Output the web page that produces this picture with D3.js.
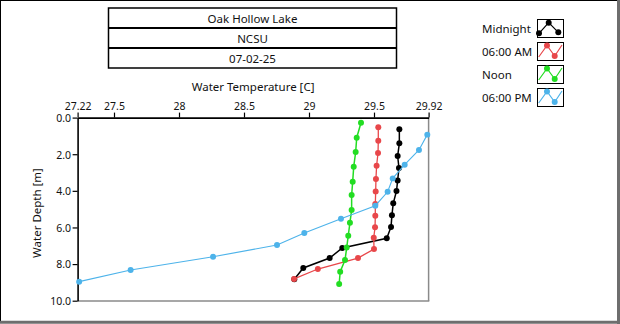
<!DOCTYPE html>
<html>
<head>
<meta charset="utf-8">
<script src="https://cdn.jsdelivr.net/npm/d3@7"></script>
<style>
  html, body { margin: 0; padding: 0; background: #fff; }
  svg { display: block; }
  text { font-family: "Noto Sans", "Open Sans", sans-serif; fill: #111; }
</style>
</head>
<body>
<svg id="chart" width="620" height="324"></svg>
<script>
// ---------------- DATA ----------------
const titleLines = ["Oak Hollow Lake", "NCSU", "07-02-25"];
const xTickValues = [27.22, 27.5, 28, 28.5, 29, 29.5, 29.92];
const xTickLabels = ["27.22", "27.5", "28", "28.5", "29", "29.5", "29.92"];
const yTickValues = [0, 2, 4, 6, 8, 10];
const seriesNames = ["Midnight", "06:00 AM", "Noon", "06:00 PM"];

const midnightDepth = [0.64, 1.40, 2.10, 2.75, 3.43, 4.01, 4.68, 5.33, 5.97, 6.59, 7.12, 7.67, 8.21, 8.83];
const midnightTemp  = [29.695, 29.695, 29.682, 29.692, 29.682, 29.673, 29.648, 29.638, 29.631, 29.598, 29.256, 29.159, 28.956, 28.887];

const amDepth = [0.53, 1.26, 1.93, 2.63, 3.35, 4.03, 4.72, 5.36, 5.99, 6.56, 7.18, 7.67, 8.27, 8.81];
const amTemp  = [29.533, 29.533, 29.531, 29.520, 29.515, 29.513, 29.510, 29.510, 29.508, 29.498, 29.500, 29.377, 29.068, 28.885];

const noonDepth = [0.28, 1.10, 1.88, 2.68, 3.50, 4.23, 5.05, 5.74, 6.45, 7.10, 7.78, 8.42, 9.09];
const noonTemp  = [29.400, 29.367, 29.359, 29.344, 29.336, 29.328, 29.328, 29.315, 29.302, 29.290, 29.277, 29.240, 29.232];

const pmDepth = [0.93, 1.77, 2.57, 3.32, 4.05, 4.81, 5.52, 6.30, 6.96, 7.60, 8.32, 8.96];
const pmTemp  = [29.910, 29.846, 29.736, 29.644, 29.605, 29.510, 29.246, 28.964, 28.754, 28.262, 27.628, 27.232];

// ---------------- STYLE ----------------
const colors = ["#000000", "#e8474a", "#22dd22", "#4db3ea"];
const widths = [1.5, 1.3, 1.5, 1.1];

const series = [
  {name: seriesNames[0], depth: midnightDepth, temp: midnightTemp},
  {name: seriesNames[1], depth: amDepth, temp: amTemp},
  {name: seriesNames[2], depth: noonDepth, temp: noonTemp},
  {name: seriesNames[3], depth: pmDepth, temp: pmTemp}
].map((s, i) => ({...s, color: colors[i], width: widths[i],
  points: s.depth.map((d, j) => ({depth: d, temp: s.temp[j]}))}));

const svg = d3.select("#chart");

// outer frame
svg.append("rect").attr("x", 0.5).attr("y", 0.5).attr("width", 618).attr("height", 321)
  .attr("fill", "#fff").attr("stroke", "#000").attr("stroke-width", 1);
svg.append("line").attr("x1", 618.5).attr("x2", 618.5).attr("y1", 0).attr("y2", 324)
  .attr("stroke", "#6e6e6e").attr("stroke-width", 3);
svg.append("line").attr("x1", 0).attr("x2", 620).attr("y1", 322.3).attr("y2", 322.3)
  .attr("stroke", "#6e6e6e").attr("stroke-width", 3);

// title box
const tb = {x: 108.5, y: 8, w: 288, h: 20};
titleLines.forEach((t, i) => {
  svg.append("text").attr("x", tb.x + tb.w / 2).attr("y", tb.y + tb.h * i + tb.h / 2 + 0.5)
    .attr("text-anchor", "middle").attr("dominant-baseline", "central")
    .attr("font-size", 11.5).text(t);
});
svg.append("rect").attr("x", tb.x).attr("y", tb.y).attr("width", tb.w).attr("height", tb.h * 3)
  .attr("fill", "none").attr("stroke", "#000").attr("stroke-width", 1.5);
[1, 2].forEach(i => {
  svg.append("line").attr("x1", tb.x).attr("x2", tb.x + tb.w)
    .attr("y1", tb.y + tb.h * i).attr("y2", tb.y + tb.h * i)
    .attr("stroke", "#000").attr("stroke-width", 2.2);
});

// scales
const x = d3.scaleLinear().domain([27.22, 29.92]).range([77.6, 428.6]);
const y = d3.scaleLinear().domain([0, 10]).range([117.6, 300.7]);

// plot frame (right & bottom gray)
svg.append("line").attr("x1", 428.6).attr("x2", 428.6).attr("y1", 117.6).attr("y2", 301)
  .attr("stroke", "#8a8a8a").attr("stroke-width", 1.5);
svg.append("line").attr("x1", 77.6).attr("x2", 429.3).attr("y1", 300.9).attr("y2", 300.9)
  .attr("stroke", "#8a8a8a").attr("stroke-width", 1.5);

// axes
const xAxis = d3.axisTop(x).tickValues(xTickValues)
  .tickFormat((d, i) => xTickLabels[i]).tickSize(5).tickSizeOuter(0).tickPadding(3);
const gx = svg.append("g").attr("transform", `translate(0,${y(0)})`).call(xAxis);
const yAxis = d3.axisLeft(y).tickValues(yTickValues).tickFormat(d3.format(".1f"))
  .tickSize(5).tickSizeOuter(0).tickPadding(1.5);
const gy = svg.append("g").attr("transform", `translate(${x(27.22)},0)`).call(yAxis);
[gx, gy].forEach(g => {
  g.select(".domain").attr("stroke", "#000").attr("stroke-width", 1.6);
  g.selectAll(".tick line").attr("stroke", "#000").attr("stroke-width", 1.2);
  g.selectAll(".tick text").attr("font-family", '"Noto Sans", sans-serif')
    .attr("font-size", 10.5).attr("fill", "#111");
});
gy.selectAll(".tick text").attr("dy", "0.36em");

// axis titles
svg.append("text").attr("x", (x.range()[0] + x.range()[1]) / 2).attr("y", 91)
  .attr("text-anchor", "middle").attr("font-size", 11.5).text("Water Temperature [C]");
svg.append("text").attr("transform", `translate(41,213) rotate(-90)`)
  .attr("text-anchor", "middle").attr("font-size", 11.5).text("Water Depth [m]");

// series
const line = d3.line().x(d => x(d.temp)).y(d => y(d.depth));
const sym = d3.symbol().type(d3.symbolCircle).size(28);
series.forEach(s => {
  const g = svg.append("g");
  g.append("path").datum(s.points).attr("d", line)
    .attr("fill", "none").attr("stroke", s.color).attr("stroke-width", s.width);
  g.selectAll("path.pt").data(s.points).join("path").attr("class", "pt")
    .attr("d", sym).attr("transform", d => `translate(${x(d.temp)},${y(d.depth)})`)
    .attr("fill", s.color);
});

// legend
const legendIcons = [
  [[2, 14.3, true], [11.7, 3.7, true], [21.3, 13.3, true]],
  [[1.7, 15], [10, 3.5, true], [17.7, 14, true], [25, 3]],
  [[1.7, 15], [10, 3.5, true], [17.7, 14, true], [25, 3]],
  [[1.7, 15], [10, 3.5, true], [17.7, 14, true], [25, 3]]
];
series.forEach((s, i) => {
  const top = 19 + i * 23;
  svg.append("text").attr("x", 482).attr("y", top + 9.5).attr("dominant-baseline", "central")
    .attr("font-size", 11.5).text(s.name);
  const g = svg.append("g").attr("transform", `translate(537,${top})`);
  g.append("rect").attr("x", 0.5).attr("y", 0.5).attr("width", 26).attr("height", 18)
    .attr("fill", "#fff").attr("stroke", "#000").attr("stroke-width", 1);
  const pts = legendIcons[i];
  g.append("path").attr("d", d3.line()(pts.map(p => [p[0], p[1]])))
    .attr("fill", "none").attr("stroke", s.color).attr("stroke-width", 1.2);
  pts.filter(p => p[2]).forEach(p => {
    g.append("path").attr("d", sym).attr("transform", `translate(${p[0]},${p[1]})`).attr("fill", s.color);
  });
});
</script>
</body>
</html>
